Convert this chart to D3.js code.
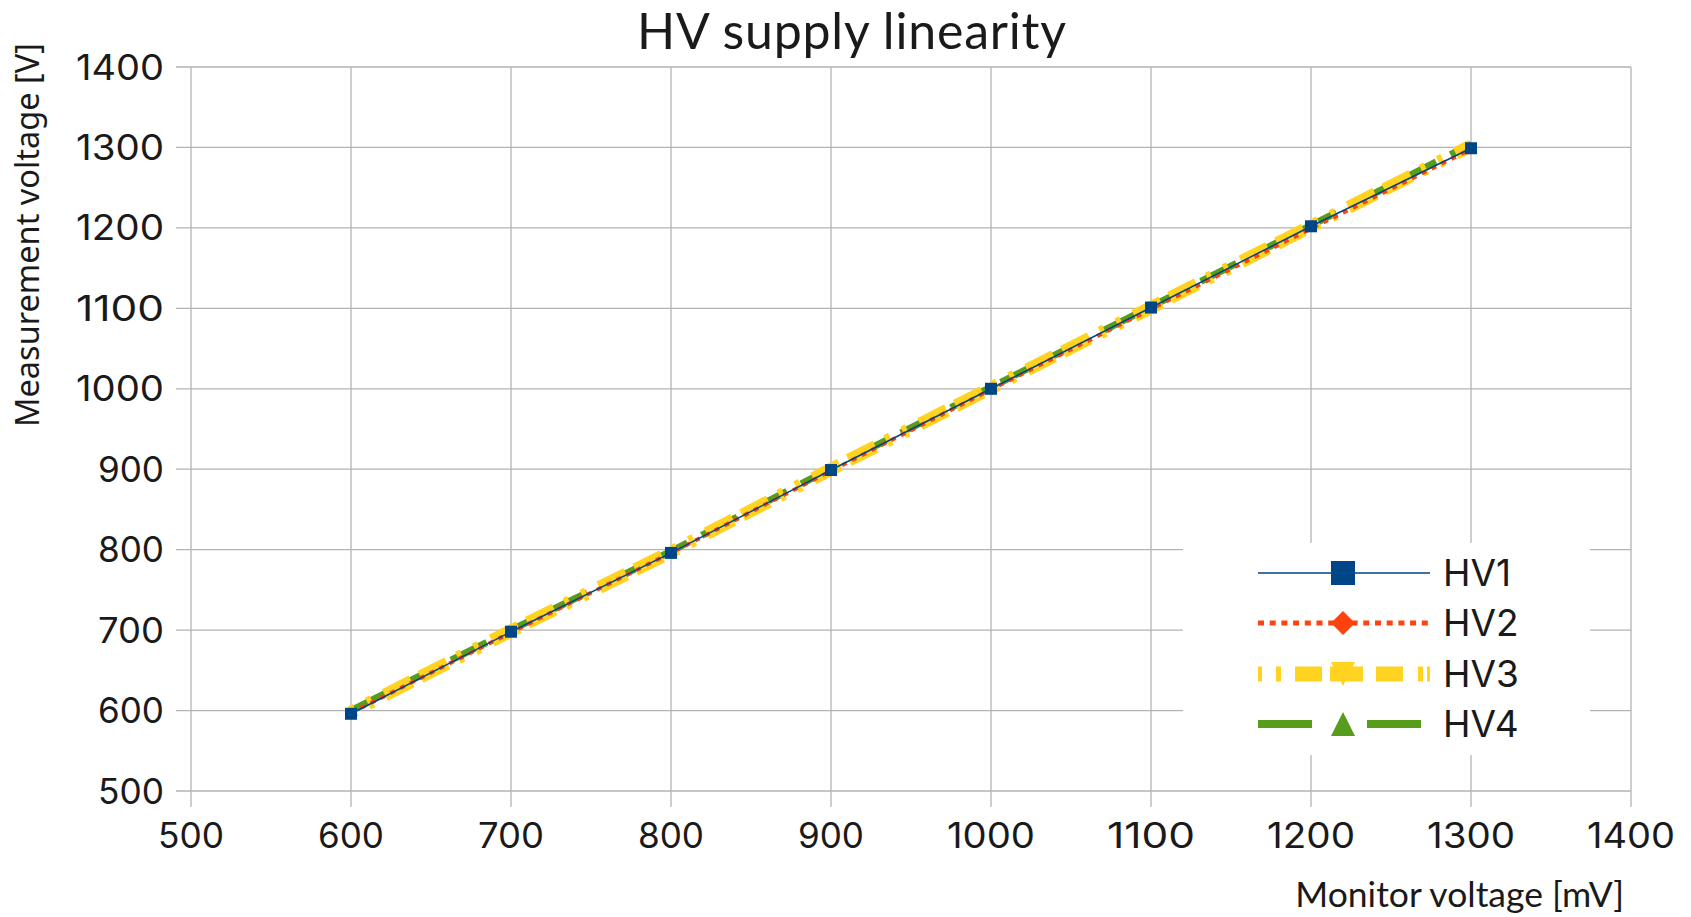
<!DOCTYPE html>
<html><head><meta charset="utf-8">
<script src="https://cdn.jsdelivr.net/npm/d3@7"></script>
<style>body{margin:0;background:#fff}</style>
</head><body>
<svg id="c" width="1691" height="917"></svg>
<script>
const xValues = [600, 700, 800, 900, 1000, 1100, 1200, 1300];
const hv1 = [596, 698, 796, 899, 1000, 1101, 1202, 1299];
const hv2 = [597, 697, 796, 898, 999, 1099, 1199, 1298];
const hv3 = [598, 699, 797, 900, 1001, 1101, 1202, 1302];
const hv4 = [600, 700, 798, 901, 1002, 1102, 1203, 1304];
const seriesNames = ["HV1", "HV2", "HV3", "HV4"];
const xTicks = [500, 600, 700, 800, 900, 1000, 1100, 1200, 1300, 1400];
const yTicks = [500, 600, 700, 800, 900, 1000, 1100, 1200, 1300, 1400];

const svg = d3.select("#c");
const x = d3.scaleLinear().domain([500, 1400]).range([191, 1631]);
const y = d3.scaleLinear().domain([500, 1400]).range([791, 67]);
const grid = "#b3b3b3";
const tickFont = "Inter, 'Noto Sans', sans-serif";

// grid
svg.append("g").selectAll("line").data(xTicks).join("line")
  .attr("x1", d => x(d)).attr("x2", d => x(d)).attr("y1", 67).attr("y2", 807)
  .attr("stroke", grid).attr("stroke-width", 1.3);
svg.append("g").selectAll("line").data(yTicks).join("line")
  .attr("x1", 176).attr("x2", 1631).attr("y1", d => y(d)).attr("y2", d => y(d))
  .attr("stroke", grid).attr("stroke-width", 1.3);

// tick labels
svg.append("g").selectAll("text").data(yTicks).join("text")
  .attr("x", 164).attr("y", d => y(d) + 12.5).attr("text-anchor", "end")
  .attr("font-family", tickFont).attr("font-size", 35).attr("fill", "#1a1a1a")
  .attr("textLength", d => String(d).length * 22).attr("lengthAdjust", "spacingAndGlyphs").text(d => d);
svg.append("g").selectAll("text").data(xTicks).join("text")
  .attr("x", d => x(d)).attr("y", 848).attr("text-anchor", "middle")
  .attr("font-family", tickFont).attr("font-size", 35).attr("fill", "#1a1a1a")
  .attr("textLength", d => String(d).length * 22).attr("lengthAdjust", "spacingAndGlyphs").text(d => d);

// titles
svg.append("text").attr("x", 852).attr("y", 49).attr("text-anchor", "middle")
  .attr("font-family", "Lato, sans-serif").attr("font-size", 50).attr("letter-spacing", 0.8).attr("fill", "#1a1a1a")
  .text("HV supply linearity");
svg.append("text").attr("x", 1624).attr("y", 907).attr("text-anchor", "end")
  .attr("font-family", "Lato, sans-serif").attr("font-size", 35.5).attr("fill", "#1a1a1a")
  .text("Monitor voltage [mV]");
svg.append("text").attr("transform", "translate(39,43) rotate(-90)").attr("text-anchor", "end")
  .attr("font-family", "'Noto Sans', sans-serif").attr("font-size", 32.5).attr("fill", "#1a1a1a")
  .text("Measurement voltage [V]");

const styles = {
  HV1: {data: hv1, color: "#004586", width: 1.5, dash: null},
  HV2: {data: hv2, color: "#ff420e", width: 4, dash: "5,6"},
  HV3: {data: hv3, color: "#ffd320", width: 13, dash: "5,14,5,14,30,10,30,12"},
  HV4: {data: hv4, color: "#579d1c", width: 7, dash: "40,16"}
};
const line = d3.line().x(d => x(d[0])).y(d => y(d[1]));
const plot = svg.append("g");
["HV4", "HV3", "HV2", "HV1"].forEach(n => {
  const s = styles[n];
  plot.append("path").datum(xValues.map((v, i) => [v, s.data[i]]))
    .attr("d", line).attr("fill", "none").attr("stroke", s.color)
    .attr("stroke-width", s.width).attr("stroke-dasharray", s.dash);
});
plot.selectAll("rect.m").data(xValues.map((v, i) => [v, hv1[i]])).join("rect")
  .attr("x", d => x(d[0]) - 6).attr("y", d => y(d[1]) - 6).attr("width", 12).attr("height", 12)
  .attr("fill", "#004586");

// legend
const lg = svg.append("g");
lg.append("rect").attr("x", 1183).attr("y", 543).attr("width", 407).attr("height", 212).attr("fill", "#fff");
const rowY = [573, 623, 674, 724];
seriesNames.forEach((n, i) => {
  const s = styles[n];
  const yy = rowY[i];
  lg.append("line").attr("x1", 1258).attr("x2", 1430).attr("y1", yy).attr("y2", yy)
    .attr("stroke", s.color).attr("stroke-width", n === "HV3" ? 15 : (n === "HV4" ? 8 : (n === "HV2" ? 5 : 1.5)))
    .attr("stroke-dasharray", n === "HV3" ? "4,14,5,14,27,8,33,13,27,15,5" : (n === "HV4" ? "54,55,54" : (n === "HV2" ? "6,5.7" : null)));
  const cx = 1343;
  if (n === "HV1") lg.append("rect").attr("x", cx - 12).attr("y", yy - 12).attr("width", 24).attr("height", 24).attr("fill", s.color);
  if (n === "HV2") lg.append("path").attr("d", `M${cx},${yy-12}L${cx+12},${yy}L${cx},${yy+12}L${cx-12},${yy}Z`).attr("fill", s.color);
  if (n === "HV3") lg.append("path").attr("d", `M${cx-12},${yy-12}L${cx+12},${yy-12}L${cx},${yy+12}Z`).attr("fill", s.color);
  if (n === "HV4") lg.append("path").attr("d", `M${cx},${yy-12}L${cx+12},${yy+12}L${cx-12},${yy+12}Z`).attr("fill", s.color);
  lg.append("text").attr("x", 1443).attr("y", yy + 13).attr("font-family", tickFont)
    .attr("font-size", 37).attr("fill", "#1a1a1a").text(n);
});
</script>
</body></html>
